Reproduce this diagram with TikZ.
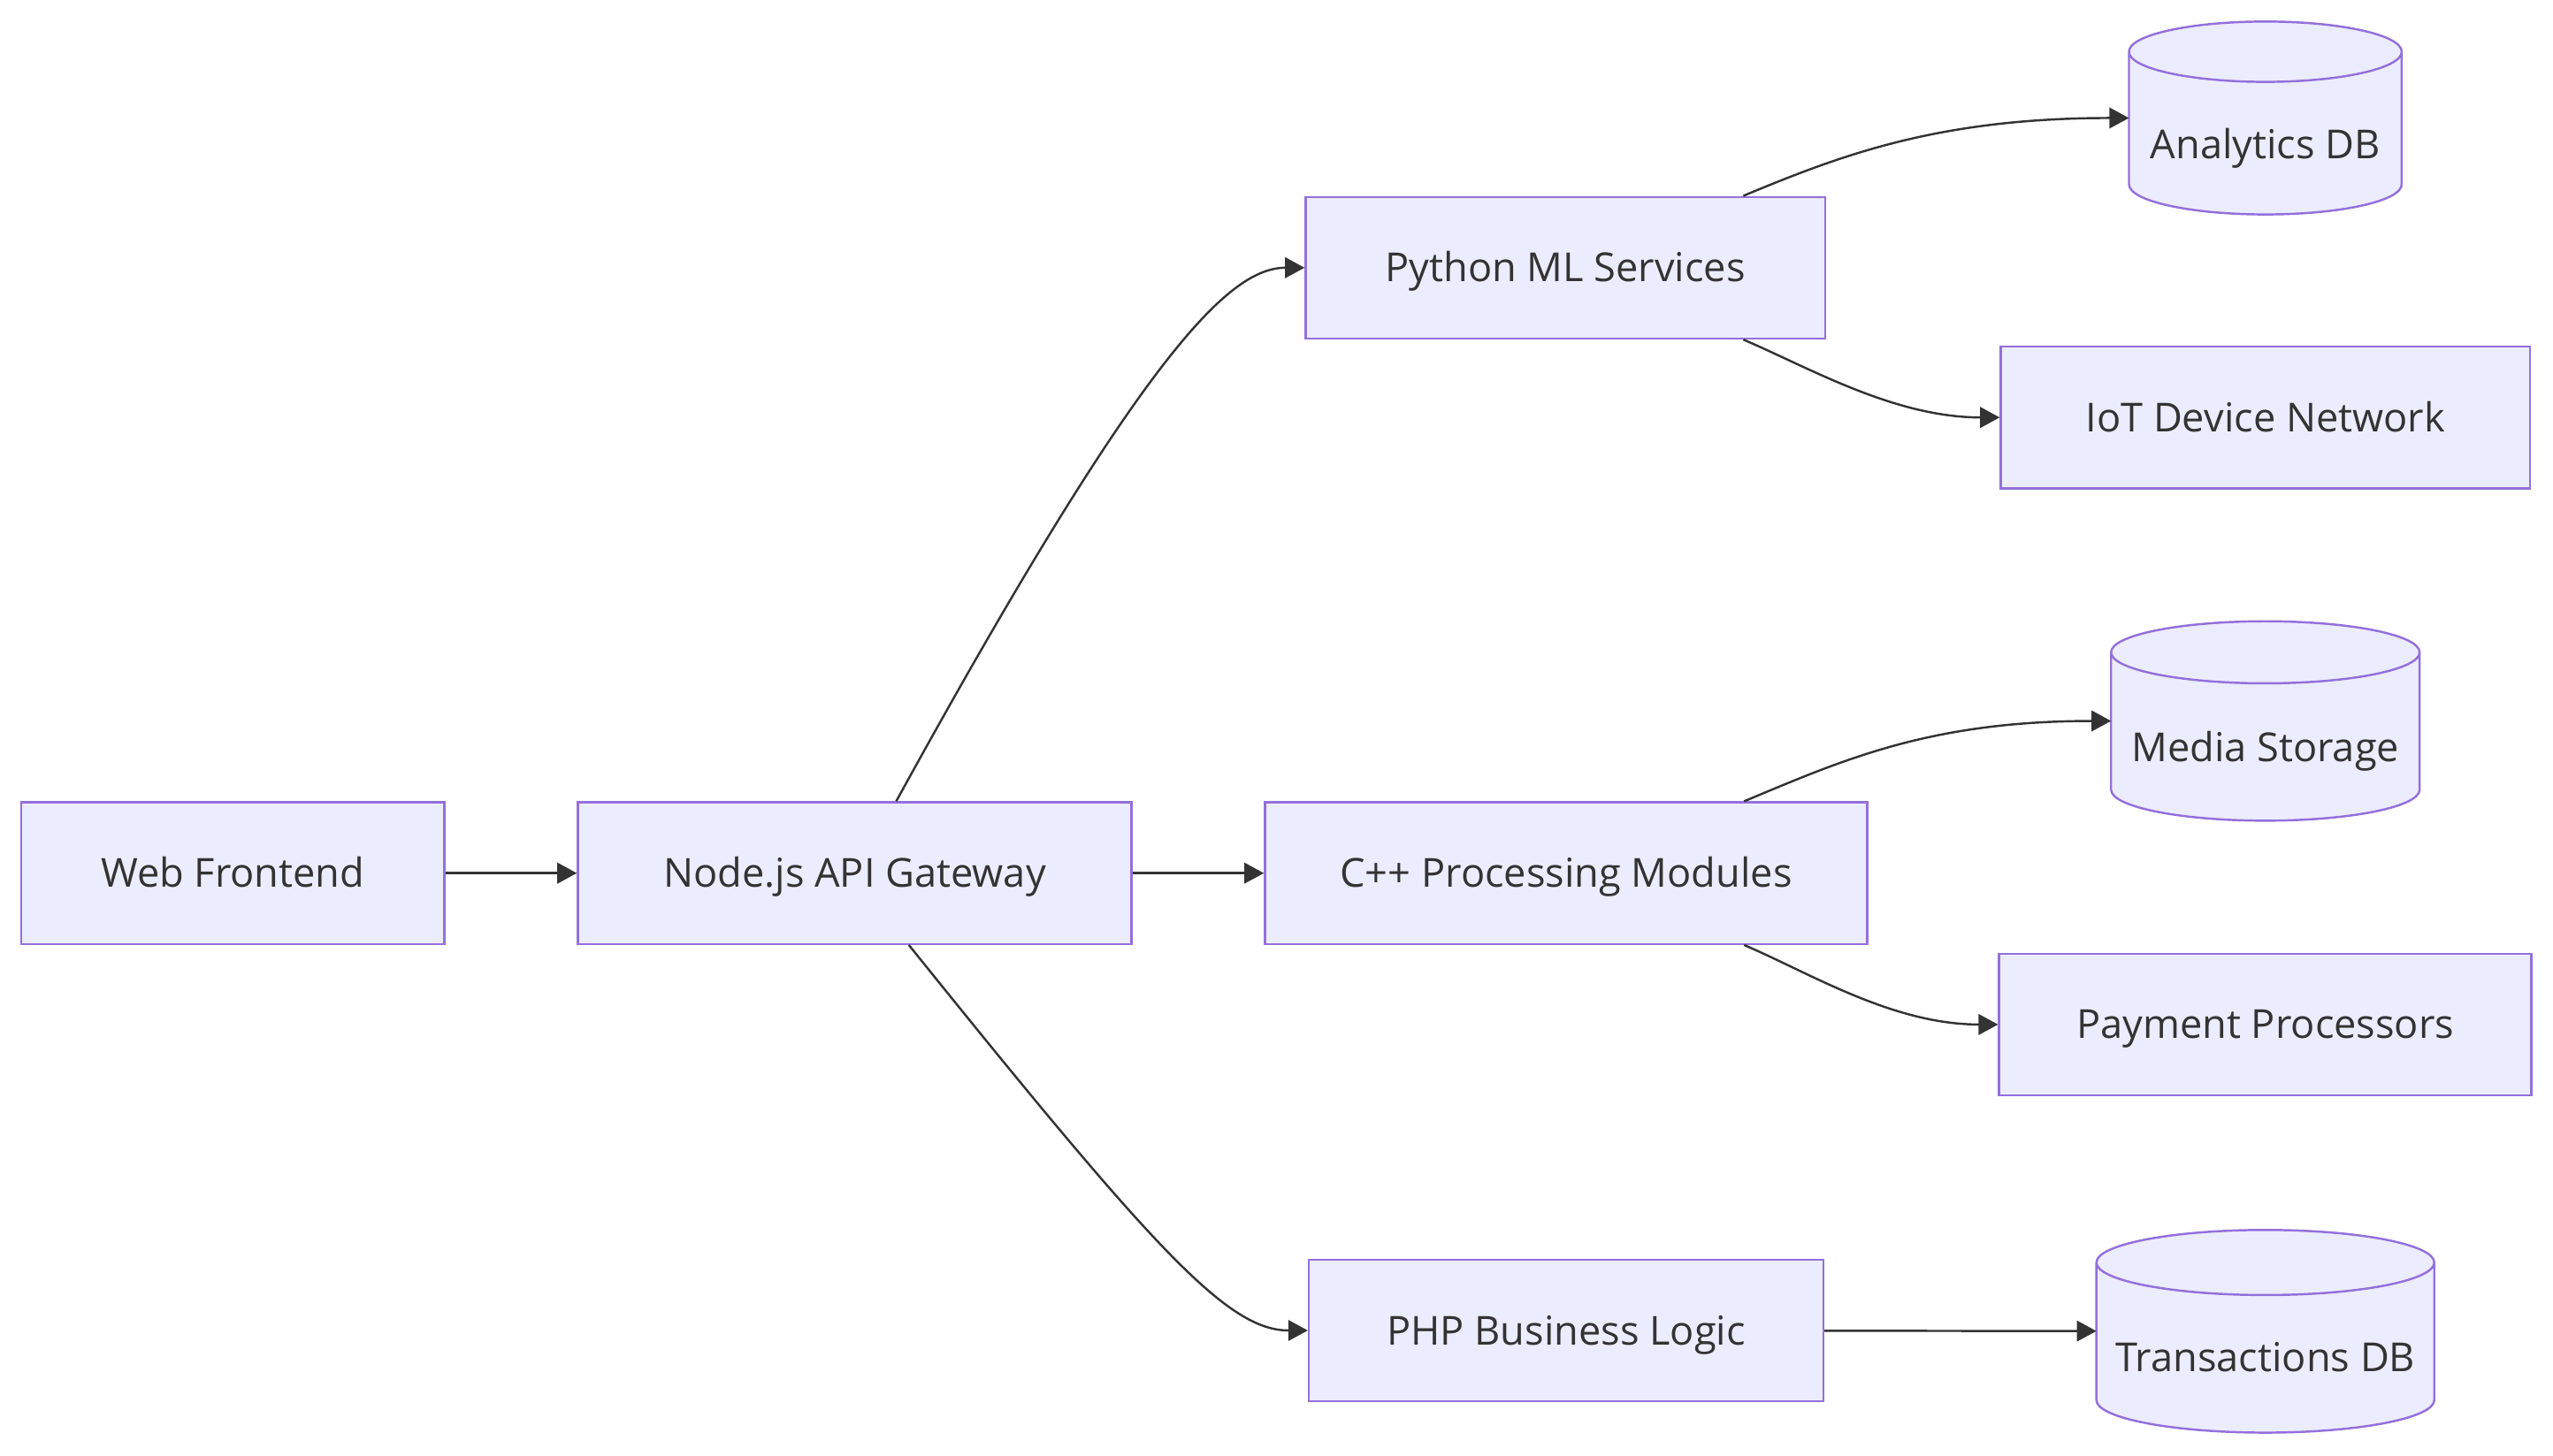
\documentclass[tikz,border=0pt]{standalone}
\usepackage{fontspec}
\setmainfont{Open Sans}
\usepackage{tikz}
\usetikzlibrary{arrows.meta,calc,backgrounds}
\definecolor{nodefill}{HTML}{ECECFF}
\definecolor{nodeline}{HTML}{9370DB}
\definecolor{inkgray}{HTML}{333333}
\newcommand{\labelfont}{\fontsize{18.4pt}{22pt}\selectfont}
\tikzstyle{box} = [rectangle, draw=nodeline, fill=nodefill, line width=1pt, minimum height=65.25pt, inner sep=0pt, text=inkgray, font=\labelfont, text height=13.1pt, text depth=0pt]
\tikzstyle{store} = [rectangle, draw=none, inner sep=0pt, text=inkgray, font=\labelfont, text height=13.1pt, text depth=0pt]
\tikzstyle{drum} = [-, draw=nodeline, fill=nodefill, line width=1pt]
\tikzstyle{link} = [draw=inkgray, line width=1pt]

\begin{document}
\begin{tikzpicture}[->,>={Triangle[length=9pt,width=9.5pt]},x=0.75pt,y=-0.75pt]
  \useasboundingbox (0,0) rectangle (1568.2,894.1);

  \node[box, minimum width=195pt] (web) at (143,536.5) {Web Frontend};
  \node[box, minimum width=255pt] (gw) at (525,536.5) {Node.js API Gateway};
  \node[box, minimum width=239.25pt] (py) at (961.5,164.5) {Python ML Services};
  \node[box, minimum width=277.5pt] (cpp) at (962,536.5) {C++ Processing Modules};
  \node[box, minimum width=237pt] (php) at (962,817.5) {PHP Business Logic};
  \node[box, minimum width=243.75pt] (iot) at (1391.5,256.5) {IoT Device Network};
  \node[box, minimum width=245.25pt] (pay) at (1391.5,629.5) {Payment Processors};
  \node[store, minimum width=125.25pt, minimum height=88.5pt] (adb) at (1391.5,72.5) {\raisebox{-12pt}{Analytics DB}};
  \node[store, minimum width=141.75pt, minimum height=91.5pt] (media) at (1391.5,443) {\raisebox{-12pt}{Media Storage}};
  \node[store, minimum width=155.25pt, minimum height=93pt] (txdb) at (1391.5,818) {\raisebox{-12pt}{Transactions DB}};

  % database drums behind their labels
  \begin{scope}[on background layer]
    \foreach \db/\ry in {adb/13.9pt, media/14.3pt, txdb/15pt}
      \draw[drum] let \p1=(\db.north west), \p2=(\db.south east), \n1={(\x2-\x1)/2} in
        (\x1,\y1-\ry) -- (\x1,\y2+\ry)
        arc[start angle=180, end angle=360, x radius={\n1*1pt}, y radius=\ry]
        -- (\x2,\y1-\ry)
        arc[start angle=0, end angle=180, x radius={\n1*1pt}, y radius=\ry] -- cycle
        (\x1,\y1-\ry) arc[start angle=180, end angle=360, x radius={\n1*1pt}, y radius=\ry];
  \end{scope}

  \draw[link] (web) -- (gw);
  \draw[link] (gw) -- (cpp);
  \draw[link] (php) -- (txdb);
  \draw[link] (gw.60) .. controls +(150,-273) and +(-47,0) .. (py.west);
  \draw[link] (gw.-53) .. controls +(152,189) and +(-49,0) .. (php.west);
  \draw[link] (py.22) .. controls +(60,-25) and +(-117,0) .. (adb.west);
  \draw[link] (py.-22) .. controls +(40,17) and +(-65,0) .. (iot.west);
  \draw[link] (cpp.22) .. controls +(60,-25) and +(-112,0) .. (media.west);
  \draw[link] (cpp.-22) .. controls +(40,17) and +(-65,0) .. (pay.west);
\end{tikzpicture}
\end{document}
